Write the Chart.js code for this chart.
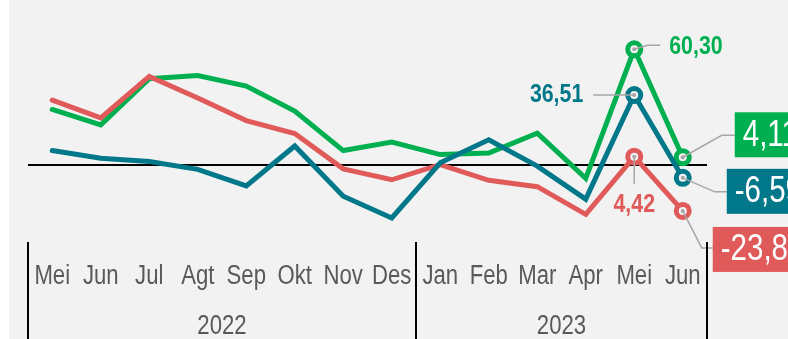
<!DOCTYPE html>
<html>
<head>
<meta charset="utf-8">
<script src="https://cdn.jsdelivr.net/npm/chart.js@4.4.1/dist/chart.umd.min.js"></script>
<style>
  html, body { margin: 0; padding: 0; background: #ffffff; }
  #wrap { position: relative; width: 788px; height: 339px;
          background: linear-gradient(to right, #ffffff 9px, #f2f2f2 9px); }
  canvas { display: block; }
</style>
</head>
<body>
<div id="wrap"><canvas id="chart" width="788" height="339"></canvas></div>
<script>
// Month labels (Mei 2022 – Jun 2023) and the year groups beneath them
const months = ['Mei', 'Jun', 'Jul', 'Agt', 'Sep', 'Okt', 'Nov', 'Des', 'Jan', 'Feb', 'Mar', 'Apr', 'Mei', 'Jun'];
const years = ['2022', '2023'];
const yearSpans = [8, 6];

// Monthly growth series (%)
const seriesGreen = [29.0, 21.0, 45.0, 46.7, 41.2, 28.2, 7.6, 12.0, 5.5, 6.3, 16.7, -6.9, 60.30, 4.11];
const seriesRed   = [33.9, 24.6, 46.2, 35.0, 23.2, 16.5, -1.9, -7.6, 0.3, -7.9, -11.2, -25.6, 4.42, -23.83];
const seriesTeal  = [7.6, 3.6, 1.9, -2.2, -10.8, 10.0, -16.2, -27.5, 1.2, 13.2, -0.5, -17.7, 36.51, -6.59];

const GREEN = '#00b050';
const RED = '#e05a5a';
const TEAL = '#00788a';
const GREY_TEXT = '#595959';
const LEADER = '#a6a6a6';
const FAMILY = '"Liberation Sans", Arial, sans-serif';
const SQUEEZE = 0.82;   // horizontal condensing for the narrow lettering

const fmt = v => v.toFixed(2).replace('.', ',');

// markers only on the last two months
const markerRadius = months.map((_, i) => (i >= months.length - 2 ? 6.5 : 0));

function lineSet(label, data, color) {
  return {
    label, data,
    borderColor: color,
    backgroundColor: color,
    borderWidth: 5,
    borderCapStyle: 'round',
    borderJoinStyle: 'miter',
    pointRadius: markerRadius,
    pointHoverRadius: markerRadius,
    pointBorderWidth: 5,
    pointBackgroundColor: '#f2f2f2',
    pointBorderColor: color,
    tension: 0
  };
}

// condensed text helper
function narrowText(ctx, str, px, py, color, font, align) {
  ctx.save();
  ctx.translate(px, py);
  ctx.scale(SQUEEZE, 1);
  ctx.fillStyle = color;
  ctx.font = font;
  ctx.textAlign = align;
  ctx.textBaseline = 'middle';
  ctx.fillText(str, 0, 0);
  ctx.restore();
}

// month ticks, year groups and separators under the plot
const categoryAxis = {
  id: 'categoryAxis',
  afterDraw(chart) {
    const ctx = chart.ctx;
    const x = chart.scales.x;
    const area = chart.chartArea;
    const font = '27px ' + FAMILY;

    x.ticks.forEach((t, i) => {
      narrowText(ctx, x.getLabelForValue(t.value), x.getPixelForTick(i), 277, GREY_TEXT, font, 'center');
    });

    const slot = x.getPixelForValue(1) - x.getPixelForValue(0);
    const edge = i => x.getPixelForValue(i) - slot / 2;
    const bounds = [0];
    yearSpans.forEach(s => bounds.push(bounds[bounds.length - 1] + s));

    ctx.save();
    ctx.strokeStyle = '#000000';
    ctx.lineWidth = 2;
    bounds.forEach(b => {
      const px = Math.round(edge(b));
      ctx.beginPath();
      ctx.moveTo(px, area.bottom);
      ctx.lineTo(px, chart.height);
      ctx.stroke();
    });
    ctx.restore();

    years.forEach((yr, k) => {
      const cx = (edge(bounds[k]) + edge(bounds[k + 1])) / 2;
      narrowText(ctx, yr, cx, 327, GREY_TEXT, font, 'center');
    });
  }
};

// leader lines, value labels and boxed end labels
const valueLabels = {
  id: 'valueLabels',
  afterDatasetsDraw(chart) {
    const ctx = chart.ctx;
    const pt = (ds, i) => chart.getDatasetMeta(ds).data[i];
    const n = months.length;
    const iMei = n - 2, iJun = n - 1;

    // dataset indices: 0 teal, 1 red, 2 green
    const gMei = pt(2, iMei), tMei = pt(0, iMei), rMei = pt(1, iMei);
    const gJun = pt(2, iJun), tJun = pt(0, iJun), rJun = pt(1, iJun);

    function leader(points) {
      ctx.save();
      ctx.strokeStyle = LEADER;
      ctx.lineWidth = 1.5;
      ctx.beginPath();
      ctx.moveTo(points[0][0], points[0][1]);
      for (let k = 1; k < points.length; k++) ctx.lineTo(points[k][0], points[k][1]);
      ctx.stroke();
      ctx.fillStyle = LEADER;
      ctx.beginPath();
      ctx.arc(points[0][0], points[0][1], 2, 0, Math.PI * 2);
      ctx.fill();
      ctx.restore();
    }
    function box(str, bx, by, h, color) {
      const font = '36px ' + FAMILY;
      ctx.save();
      ctx.font = font;
      const w = ctx.measureText(str).width * SQUEEZE + 16;
      ctx.fillStyle = color;
      ctx.fillRect(bx, by, w, h);
      ctx.restore();
      narrowText(ctx, str, bx + 8, by + h / 2 + 1, '#ffffff', font, 'left');
    }

    const boldFont = 'bold 26px ' + FAMILY;

    // peak labels (Mei 2023)
    leader([[gMei.x, gMei.y], [gMei.x + 13, gMei.y - 4], [gMei.x + 26, gMei.y - 4]]);
    narrowText(ctx, fmt(seriesGreen[iMei]), gMei.x + 35, gMei.y - 3, GREEN, boldFont, 'left');

    leader([[tMei.x, tMei.y], [tMei.x - 41, tMei.y]]);
    narrowText(ctx, fmt(seriesTeal[iMei]), tMei.x - 51, tMei.y, TEAL, boldFont, 'right');

    leader([[rMei.x, rMei.y], [rMei.x, rMei.y + 27]]);
    narrowText(ctx, fmt(seriesRed[iMei]), rMei.x, rMei.y + 48, RED, boldFont, 'center');

    // boxed labels for the latest month (Jun 2023)
    leader([[gJun.x, gJun.y], [gJun.x + 39, gJun.y - 22], [gJun.x + 52, gJun.y - 22]]);
    box(fmt(seriesGreen[iJun]), gJun.x + 52, gJun.y - 45, 45, GREEN);

    leader([[tJun.x, tJun.y], [tJun.x + 32, tJun.y + 14], [tJun.x + 44, tJun.y + 14]]);
    box(fmt(seriesTeal[iJun]), tJun.x + 44, tJun.y - 9, 45, TEAL);

    leader([[rJun.x, rJun.y], [rJun.x + 19, rJun.y + 37], [rJun.x + 30, rJun.y + 37]]);
    box(fmt(seriesRed[iJun]), rJun.x + 30, rJun.y + 16, 45, RED);
  }
};

new Chart(document.getElementById('chart'), {
  type: 'line',
  data: {
    labels: months,
    datasets: [
      lineSet('Teal', seriesTeal, TEAL),
      lineSet('Red', seriesRed, RED),
      lineSet('Green', seriesGreen, GREEN)
    ]
  },
  options: {
    responsive: false,
    animation: false,
    events: [],
    layout: { padding: { left: 28, right: 81, top: 9, bottom: 0 } },
    plugins: { legend: { display: false }, tooltip: { enabled: false } },
    scales: {
      x: {
        offset: true,
        grid: { display: false },
        border: { display: false },
        ticks: { display: false, autoSkip: false, maxRotation: 0 },
        afterFit(scale) { scale.height = 97; }
      },
      y: {
        min: -40,
        max: 80,
        ticks: { display: false, stepSize: 40 },
        border: { display: false },
        grid: {
          drawTicks: false,
          lineWidth: 2,
          color: c => (c.tick.value === 0 ? '#000000' : 'rgba(0,0,0,0)')
        },
        afterFit(scale) { scale.width = 0; }
      }
    }
  },
  plugins: [valueLabels, categoryAxis]
});
</script>
</body>
</html>
